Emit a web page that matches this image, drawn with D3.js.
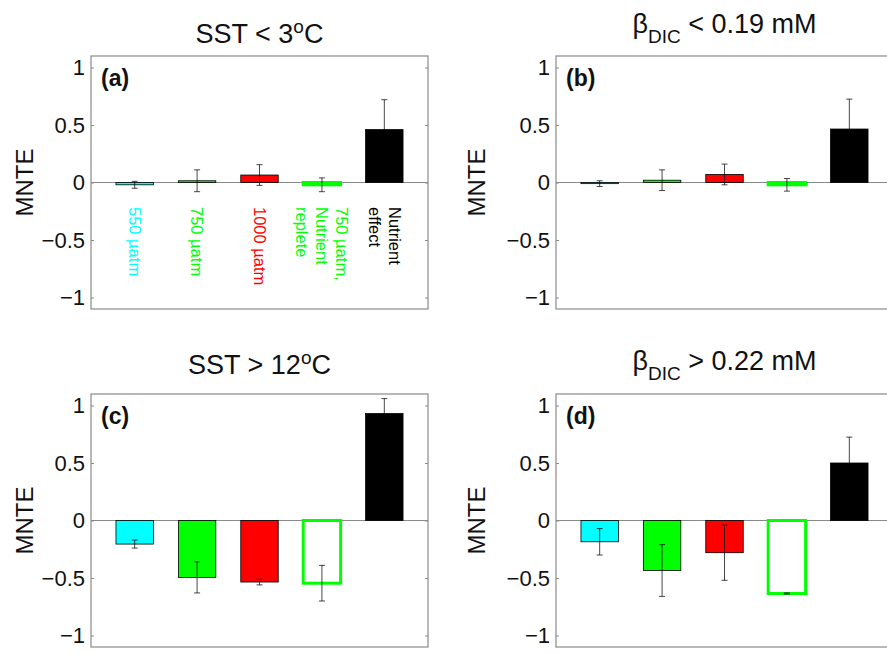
<!DOCTYPE html>
<html>
<head>
<meta charset="utf-8">
<script src="https://cdn.jsdelivr.net/npm/d3@7"></script>
<style>
  body { margin: 0; background: #fff; }
  svg { display: block; }
  text { font-family: "Liberation Sans", Arial, Helvetica, sans-serif; fill: #111; }
</style>
</head>
<body>
<svg id="chart" width="887" height="654"></svg>
<script>
// Treatment categories (label lines as shown under the bars of panel a)
const categoryLines = [["550 µatm"], ["750 µatm"], ["1000 µatm"], ["750 µatm,", "Nutrient", "replete"], ["Nutrient", "effect"]];
const barPositions = [1, 2, 3, 4, 5];
const yTicks = [-1, -0.5, 0, 0.5, 1];

// Mean normalised treatment effect (MNTE) and error half-widths per panel
const valuesA = [-0.02, 0.015, 0.065, -0.02, 0.46];
const errorsA = [0.03, 0.095, 0.09, 0.06, 0.26];
const valuesB = [-0.01, 0.02, 0.07, -0.02, 0.465];
const errorsB = [0.025, 0.09, 0.09, 0.055, 0.26];
const valuesC = [-0.205, -0.495, -0.535, -0.545, 0.93];
const errorsC = [0.035, 0.135, 0.025, 0.155, 0.13];
const valuesD = [-0.185, -0.435, -0.28, -0.635, 0.5];
const errorsD = [0.115, 0.225, 0.24, 0.005, 0.225];

const panelLetters = ["(a)", "(b)", "(c)", "(d)"];
// Title pieces: [text, role] where role is "", "sup" or "sub"
const titleA = [["SST < 3", ""], ["o", "sup"], ["C", ""]];
const titleB = [["β", ""], ["DIC", "sub"], [" < 0.19 mM", ""]];
const titleC = [["SST > 12", ""], ["o", "sup"], ["C", ""]];
const titleD = [["β", ""], ["DIC", "sub"], [" > 0.22 mM", ""]];

// Drawing styles
const barFill   = ["#00ffff", "#00ff00", "#ff0000", "#ffffff", "#000000"];
const barStroke = ["#000000", "#000000", "#000000", "#00ff00", "#000000"];
const barStrokeW = [0.8, 0.8, 0.8, 3, 0.8];
const labelColor = ["#00ffff", "#00ff00", "#ff0000", "#00ff00", "#000000"];

const svg = d3.select("#chart");

const panelW = 337, panelH = 253;
const titleSize = 27, scriptSize = 19;
const panels = [
  { left: 91,  top: 56,  values: valuesA, errors: errorsA, title: titleA, titleY: 43,  yLabelX: 24,  labels: true },
  { left: 556, top: 56,  values: valuesB, errors: errorsB, title: titleB, titleY: 33,  yLabelX: 476, labels: false },
  { left: 91,  top: 394, values: valuesC, errors: errorsC, title: titleC, titleY: 374, yLabelX: 24,  labels: false },
  { left: 556, top: 394, values: valuesD, errors: errorsD, title: titleD, titleY: 370, yLabelX: 476, labels: false }
];

panels.forEach((p, i) => {
  const x = d3.scaleLinear().domain([0.3, 5.7]).range([p.left, p.left + panelW]);
  const y = d3.scaleLinear().domain([-1.1, 1.1]).range([p.top + panelH, p.top]);
  const g = svg.append("g");

  // Baseline at zero
  g.append("line")
    .attr("x1", x(0.3)).attr("x2", x(5.7))
    .attr("y1", y(0)).attr("y2", y(0))
    .attr("stroke", "#8a8a8a").attr("stroke-width", 1.2);

  // Bars
  const bw = 0.6;
  g.selectAll("rect.bar").data(p.values).join("rect")
    .attr("class", "bar")
    .attr("x", (d, j) => x(barPositions[j] - bw / 2))
    .attr("width", (d, j) => x(barPositions[j] + bw / 2) - x(barPositions[j] - bw / 2))
    .attr("y", d => y(Math.max(d, 0)))
    .attr("height", d => Math.abs(y(d) - y(0)))
    .attr("fill", (d, j) => barFill[j])
    .attr("stroke", (d, j) => barStroke[j])
    .attr("stroke-width", (d, j) => barStrokeW[j]);

  // Error bars (thin black, semi-transparent so they read grey on white)
  const cap = 3;
  p.values.forEach((v, j) => {
    const cx = x(barPositions[j]);
    const lo = y(v - p.errors[j]), hi = y(v + p.errors[j]);
    const eg = g.append("g").attr("stroke", "#000").attr("stroke-opacity", 0.72).attr("stroke-width", 1);
    eg.append("line").attr("x1", cx).attr("x2", cx).attr("y1", lo).attr("y2", hi);
    eg.append("line").attr("x1", cx - cap).attr("x2", cx + cap).attr("y1", lo).attr("y2", lo);
    eg.append("line").attr("x1", cx - cap).attr("x2", cx + cap).attr("y1", hi).attr("y2", hi);
  });

  // Axes frame
  g.append("rect")
    .attr("x", p.left).attr("y", p.top)
    .attr("width", panelW).attr("height", panelH)
    .attr("fill", "none").attr("stroke", "#8a8a8a").attr("stroke-width", 1.2);

  const left = g.append("g")
    .attr("transform", `translate(${p.left},0)`)
    .call(d3.axisLeft(y).tickValues(yTicks).tickSize(-3).tickPadding(6).tickFormat(d3.format("~g")));
  left.select(".domain").remove();
  left.selectAll(".tick line").attr("stroke", "#8a8a8a");
  left.selectAll(".tick text").attr("font-size", 22).attr("fill", "#111")
    .attr("font-family", "'Liberation Sans', Arial, sans-serif");

  const right = g.append("g")
    .attr("transform", `translate(${p.left + panelW},0)`)
    .call(d3.axisRight(y).tickValues(yTicks).tickSize(-3).tickFormat(""));
  right.select(".domain").remove();
  right.selectAll(".tick line").attr("stroke", "#8a8a8a");

  // Y label
  g.append("text")
    .attr("transform", `translate(${p.yLabelX + 8.5},${y(0)}) rotate(-90)`)
    .attr("text-anchor", "middle")
    .attr("font-size", 24)
    .text("MNTE");

  // Panel letter
  g.append("text")
    .attr("x", p.left + 10).attr("y", p.top + 30)
    .attr("font-size", 23).attr("font-weight", "bold")
    .text(panelLetters[i]);

  // Title
  const t = g.append("text")
    .attr("x", p.left + panelW / 2).attr("y", p.titleY)
    .attr("text-anchor", "middle")
    .attr("font-size", titleSize);
  let shift = 0;
  p.title.forEach(([txt, role]) => {
    const target = role === "sup" ? -10 : role === "sub" ? 10 : 0;
    t.append("tspan")
      .attr("dy", target - shift)
      .attr("font-size", role === "" ? titleSize : scriptSize)
      .text(txt);
    shift = target;
  });

  // Category labels under the bars
  if (p.labels) {
    const fs = 16.5, lh = 20;
    categoryLines.forEach((lines, j) => {
      const tx = g.append("text")
        .attr("transform", `translate(${x(barPositions[j])},${y(0) + 24.5}) rotate(90)`)
        .attr("font-size", fs)
        .style("fill", labelColor[j]);
      const n = lines.length;
      lines.forEach((ln, k) => {
        tx.append("tspan")
          .attr("x", 0)
          .attr("y", (k - (n - 1) / 2) * lh + 0.35 * fs)
          .text(ln);
      });
    });
  }
});
</script>
</body>
</html>
